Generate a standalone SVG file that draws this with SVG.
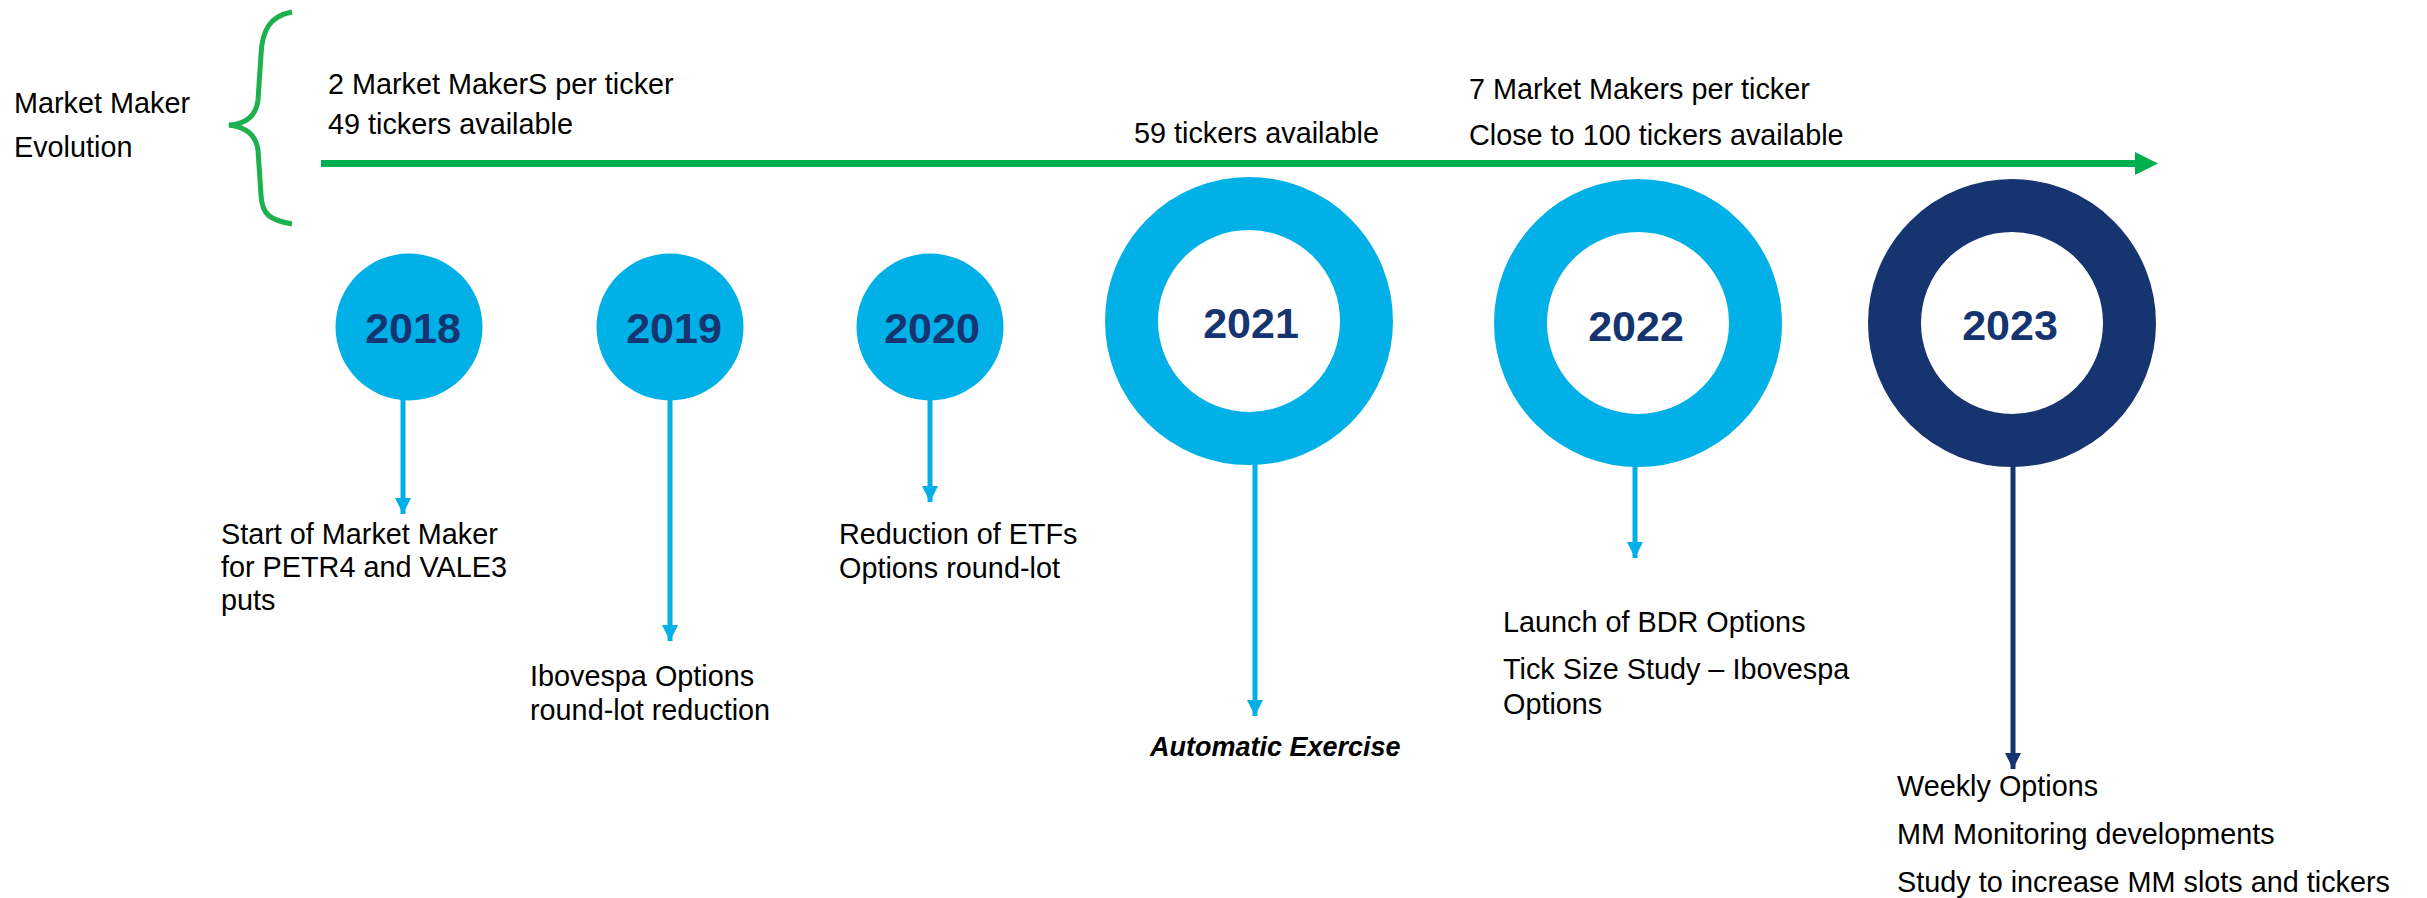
<svg xmlns="http://www.w3.org/2000/svg" width="2427" height="898" viewBox="0 0 2427 898">
<defs>
<style>
.t{font-family:"Liberation Sans",Arial,sans-serif;font-size:28.8px;fill:#000}
.yr{font-family:"Liberation Sans",Arial,sans-serif;font-size:43px;font-weight:bold;fill:#16346F;text-anchor:middle}
.lb{fill:#00B0E6}
.nv{fill:#16346F}
.stem{stroke:#00B0E6;stroke-width:5;fill:none}
.stemN{stroke:#16346F;stroke-width:5;fill:none}
</style>
<marker id="ahB" markerUnits="userSpaceOnUse" markerWidth="16" markerHeight="16" refX="16" refY="8" orient="auto" viewBox="0 0 16 16">
<path d="M0,0 L16,8 L0,16 Z" fill="#00B0E6"/>
</marker>
<marker id="ahN" markerUnits="userSpaceOnUse" markerWidth="16" markerHeight="16" refX="16" refY="8" orient="auto" viewBox="0 0 16 16">
<path d="M0,0 L16,8 L0,16 Z" fill="#16346F"/>
</marker>
</defs>
<rect width="2427" height="898" fill="#fff"/>

<g id="evolution">
<text class="t" x="14" y="113">Market Maker</text>
<text class="t" x="14" y="157">Evolution</text>
<path d="M292,12 C270,16 262,30 261,55 L258,100 C256,116 246,124 229,125 C246,127 256,135 258,150 L261,195 C262,215 270,220 292,224" fill="none" stroke="#1DB04F" stroke-width="5"/>
<text class="t" x="328" y="94">2 Market MakerS per ticker</text>
<text class="t" x="328" y="134">49 tickers available</text>
<text class="t" x="1134" y="143">59 tickers available</text>
<text class="t" x="1469" y="99">7 Market Makers per ticker</text>
<text class="t" x="1469" y="145">Close to 100 tickers available</text>
</g>

<g id="connectors">
<line x1="321" y1="163.5" x2="2137" y2="163.5" stroke="#00B050" stroke-width="7"/>
<path d="M2135,152 L2158,163.5 L2135,175 Z" fill="#00B050"/>
<line class="stem" x1="403" y1="395" x2="403" y2="514" marker-end="url(#ahB)"/>
<line class="stem" x1="670" y1="395" x2="670" y2="641" marker-end="url(#ahB)"/>
<line class="stem" x1="930" y1="395" x2="930" y2="502" marker-end="url(#ahB)"/>
<line class="stem" x1="1255" y1="460" x2="1255" y2="716" marker-end="url(#ahB)"/>
<line class="stem" x1="1635" y1="460" x2="1635" y2="558" marker-end="url(#ahB)"/>
<line class="stemN" x1="2013" y1="460" x2="2013" y2="769" marker-end="url(#ahN)"/>
</g>

<g id="n2018">
<circle class="lb" cx="409" cy="327" r="73.5"/>
<text class="yr" x="413" y="343">2018</text>
<text class="t" x="221" y="544">Start of Market Maker</text>
<text class="t" x="221" y="577">for PETR4 and VALE3</text>
<text class="t" x="221" y="610">puts</text>
</g>

<g id="n2019">
<circle class="lb" cx="670" cy="327" r="73.5"/>
<text class="yr" x="674" y="343">2019</text>
<text class="t" x="530" y="686">Ibovespa Options</text>
<text class="t" x="530" y="720">round-lot reduction</text>
</g>

<g id="n2020">
<circle class="lb" cx="930" cy="327" r="73.5"/>
<text class="yr" x="932" y="343">2020</text>
<text class="t" x="839" y="544">Reduction of ETFs</text>
<text class="t" x="839" y="578">Options round-lot</text>
</g>

<g id="n2021">
<circle cx="1249" cy="321" r="117.5" fill="none" stroke="#00B0E6" stroke-width="53"/>
<text class="yr" x="1251" y="338">2021</text>
<text x="1150" y="756" style="font-family:'Liberation Sans',Arial,sans-serif;font-size:27px;font-weight:bold;font-style:italic;fill:#000">Automatic Exercise</text>
</g>

<g id="n2022">
<circle cx="1638" cy="323" r="117.5" fill="none" stroke="#00B0E6" stroke-width="53"/>
<text class="yr" x="1636" y="341">2022</text>
<text class="t" x="1503" y="632">Launch of BDR Options</text>
<text class="t" x="1503" y="679">Tick Size Study – Ibovespa</text>
<text class="t" x="1503" y="714">Options</text>
</g>

<g id="n2023">
<circle cx="2012" cy="323" r="117.5" fill="none" stroke="#16346F" stroke-width="53"/>
<text class="yr" x="2010" y="340">2023</text>
<text class="t" x="1897" y="796">Weekly Options</text>
<text class="t" x="1897" y="844">MM Monitoring developments</text>
<text class="t" x="1897" y="892">Study to increase MM slots and tickers</text>
</g>
</svg>
